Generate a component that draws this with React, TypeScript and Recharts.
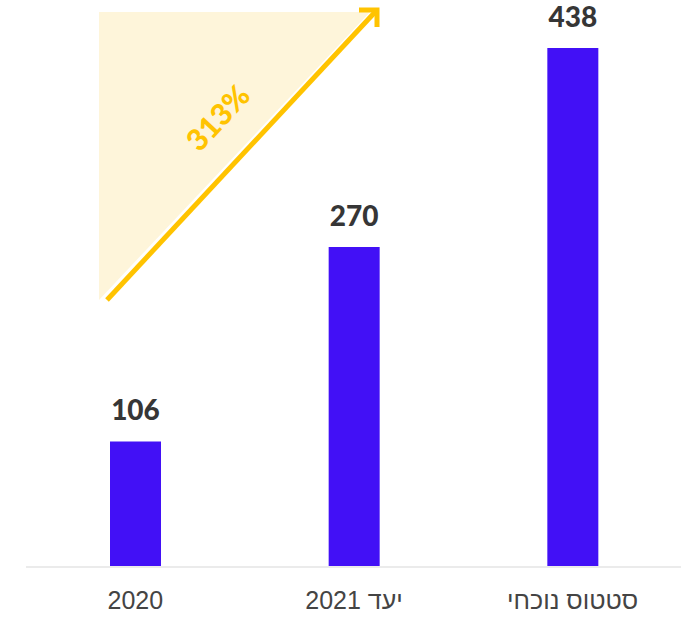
import React from 'react';
import { BarChart, Bar, XAxis, YAxis, LabelList } from 'recharts';

// Categories (right-to-left Hebrew labels) and values
const categories = ['2020', 'יעד 2021', 'סטטוס נוכחי'];
const values = [106, 270, 438];
const growthLabel = '313%';

const data = categories.map((name, i) => ({ name, value: values[i] }));

const BAR_COLOR = '#4210F6';
const ARROW_COLOR = '#FFC300';
const TRIANGLE_FILL = '#FEF5DA';

const CategoryTick = (props: any) => {
  const { x, y, payload } = props;
  return (
    <text
      x={x}
      y={y}
      dy="0.71em"
      textAnchor="middle"
      direction="rtl"
      fill="#444444"
      fontSize={25}
      fontFamily="'Liberation Sans', Arial, sans-serif"
    >
      {payload.value}
    </text>
  );
};

// Growth decoration: shaded triangle + arrow with percentage
const GrowthArrow = () => (
  <svg
    width={681}
    height={617}
    style={{ position: 'absolute', left: 0, top: 0, pointerEvents: 'none' }}
  >
    <polygon points="99,12 370,12 99,300" fill={TRIANGLE_FILL} />
    <line x1={107} y1={300} x2={376} y2={11} stroke={ARROW_COLOR} strokeWidth={5} />
    <polyline
      points="359,10 377,10 377,27"
      fill="none"
      stroke={ARROW_COLOR}
      strokeWidth={5}
      strokeLinejoin="miter"
    />
    <text
      x={217}
      y={117}
      textAnchor="middle"
      dominantBaseline="central"
      transform="rotate(-47 217 117)"
      fill={ARROW_COLOR}
      fontSize={30}
      fontWeight={900}
      fontFamily="Lato, 'Open Sans', sans-serif"
    >
      {growthLabel}
    </text>
  </svg>
);

export default function App() {
  return (
    <div style={{ position: 'absolute', left: 0, top: 0, width: 681, height: 617, background: '#fff' }}>
      <GrowthArrow />
      <div style={{ position: 'absolute', left: 0, top: 0 }}>
        <BarChart
          width={681}
          height={617}
          data={data}
          margin={{ top: 48, right: -1, bottom: 0, left: 26 }}
        >
          <XAxis
            dataKey="name"
            height={50}
            axisLine={{ stroke: '#ebebeb', strokeWidth: 2 }}
            tickLine={false}
            tickSize={0}
            tickMargin={24}
            tick={<CategoryTick />}
            interval={0}
          />
          <YAxis hide domain={[0, 438]} />
          <Bar dataKey="value" fill={BAR_COLOR} barSize={51} isAnimationActive={false}>
            <LabelList
              dataKey="value"
              position="top"
              offset={21}
              fill="#363636"
              fontSize={28}
              fontWeight={900}
              fontFamily="Lato, 'Open Sans', sans-serif"
            />
          </Bar>
        </BarChart>
      </div>
    </div>
  );
}
